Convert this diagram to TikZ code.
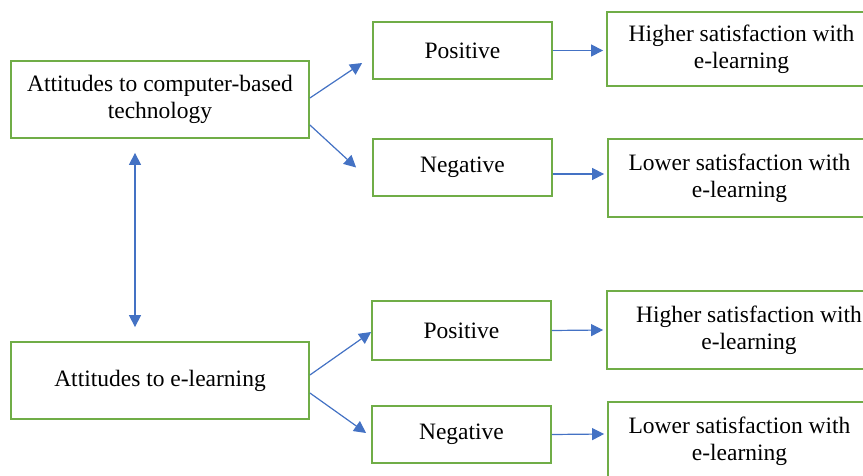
\documentclass[tikz,border=0pt]{standalone}
\usepackage{fontspec}
\setmainfont{Liberation Serif}
\usetikzlibrary{arrows.meta}
\definecolor{boxgreen}{RGB}{112,173,71}
\definecolor{arrowblue}{RGB}{68,114,196}
\begin{document}
\begin{tikzpicture}[x=1pt, y=-1pt, >={Triangle[length=12pt,width=12pt]},
    box/.style={draw=boxgreen, line width=1.8pt, align=center, inner sep=0pt,
                font=\fontsize{23.5}{27}\selectfont},
    link/.style={draw=arrowblue, line width=1.2pt, fill=arrowblue}]
  \useasboundingbox (0,0) rectangle (863,476);
  \clip (0,0) rectangle (863,476);
  \node[box, minimum width=298pt, minimum height=77pt] (comp) at (160,99.5) {Attitudes to computer-based\\technology};
  \node[box, minimum width=298pt, minimum height=77pt] (elearn) at (160,380.5) {Attitudes to e-learning};
  \node[box, minimum width=179pt, minimum height=57pt] (pos1) at (462.5,50.5) {Positive};
  \node[box, minimum width=179pt, minimum height=57pt] (neg1) at (462.5,167.5) {Negative};
  \node[box, minimum width=179pt, minimum height=59pt] (pos2) at (461.5,330.5) {Positive};
  \node[box, minimum width=179pt, minimum height=57pt] (neg2) at (461.5,434.5) {Negative};
  \node[box, minimum width=269pt, minimum height=74pt] (high1) at (741.5,49) {Higher satisfaction with\\e-learning};
  \node[box, minimum width=263pt, minimum height=78pt] (low1) at (739.5,178) {Lower satisfaction with\\e-learning};
  \node[box, minimum width=284pt, minimum height=78pt] (high2) at (749,330) {Higher satisfaction with\\e-learning};
  \node[box, minimum width=263pt, minimum height=78pt] (low2) at (739.5,441) {Lower satisfaction with\\e-learning};
  % outgoing arrows
  \draw[link, ->] ([yshift=1.5pt]comp.east) -- ([xshift=-10pt,yshift=-12.5pt]pos1.west);
  \draw[link, ->] ([yshift=-25.5pt]comp.east) -- ([xshift=-16pt]neg1.west);
  \draw[link, ->] ([yshift=5.5pt]elearn.east) -- ([yshift=-1.5pt]pos2.west);
  \draw[link, ->] ([yshift=-12.5pt]elearn.east) -- ([xshift=-5pt,yshift=1.5pt]neg2.west);
  \draw[link, ->] (pos1.east) -- ([xshift=-3pt,yshift=-1.5pt]high1.west);
  \draw[link, ->] ([yshift=-6.5pt]neg1.east) -- ([xshift=-3pt,yshift=4pt]low1.west);
  \draw[link, ->] (pos2.east) -- ([xshift=-3pt]high2.west);
  \draw[link, ->] (neg2.east) -- ([xshift=-3pt,yshift=7pt]low2.west);
  \draw[link, <->] ([xshift=-25pt,yshift=-14pt]comp.south) -- ([xshift=-25pt,yshift=14pt]elearn.north);
\end{tikzpicture}
\end{document}
